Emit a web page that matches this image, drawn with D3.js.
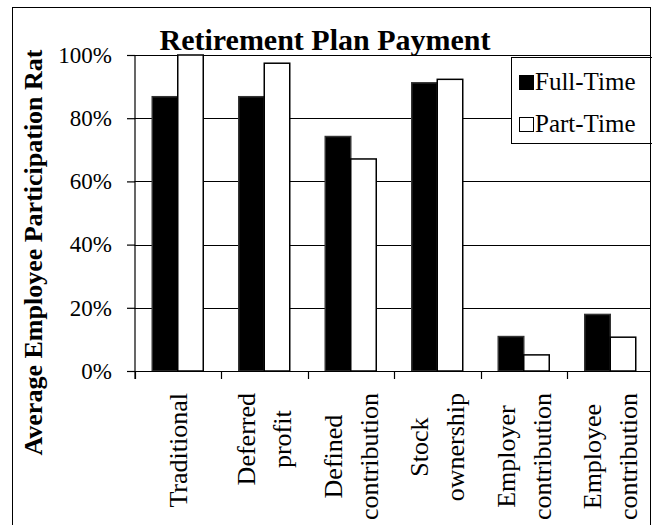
<!DOCTYPE html>
<html>
<head>
<meta charset="utf-8">
<script src="https://cdn.jsdelivr.net/npm/d3@7"></script>
<style>
  html, body { margin: 0; padding: 0; background: #fff; }
  svg { display: block; }
  text { font-family: "Liberation Serif", "Times New Roman", serif; fill: #000; }
</style>
</head>
<body>
<svg id="chart" width="652" height="525"></svg>
<script>
// ---- data ----
const categories = ["Traditional", "Deferred profit", "Defined contribution", "Stock ownership", "Employer contribution", "Employee contribution"];
const categoryLines = [["Traditional"], ["Deferred", "profit"], ["Defined", "contribution"], ["Stock", "ownership"], ["Employer", "contribution"], ["Employee", "contribution"]];
const seriesNames = ["Full-Time", "Part-Time"];
const fullTime = [0.868, 0.868, 0.742, 0.912, 0.109, 0.179];
const partTime = [1.000, 0.974, 0.671, 0.923, 0.051, 0.107];
const yTicks = [0, 0.2, 0.4, 0.6, 0.8, 1.0];
const titleText = "Retirement Plan Payment";
const yTitleText = "Average Employee Participation Rat";

const svg = d3.select("#chart");
const W = 652, H = 525;

// frame
svg.append("rect").attr("x", 12.5).attr("y", 7.5).attr("width", 638).attr("height", 600)
  .attr("fill", "#fff").attr("stroke", "#000").attr("stroke-width", 1);

const plot = { left: 134.5, right: 653.5, top: 55, bottom: 371 };

const y = d3.scaleLinear().domain([0, 1]).range([plot.bottom, plot.top]);
const x0 = d3.scaleBand().domain(categories).range([plot.left, plot.right]).padding(0);
const bw = x0.bandwidth();
const x1 = d3.scaleBand().domain(seriesNames).range([bw / 2 - 25.5, bw / 2 + 25.5]).padding(0);

const clip = svg.append("clipPath").attr("id", "frameClip")
  .append("rect").attr("x", 12).attr("y", 7).attr("width", 638.5).attr("height", 600);

const g = svg.append("g").attr("clip-path", "url(#frameClip)");

// gridlines
g.append("g").selectAll("line").data(yTicks.filter(d => d > 0)).join("line")
  .attr("x1", plot.left).attr("x2", plot.right)
  .attr("y1", d => Math.round(y(d)) + 0.5).attr("y2", d => Math.round(y(d)) + 0.5)
  .attr("stroke", "#000").attr("stroke-width", 1);

// bars
const rows = categories.map((c, i) => ({ c, vals: [fullTime[i], partTime[i]] }));
const grp = g.append("g").selectAll("g").data(rows).join("g")
  .attr("transform", d => `translate(${x0(d.c)},0)`);
grp.selectAll("rect").data(d => d.vals.map((v, j) => ({ s: seriesNames[j], v }))).join("rect")
  .attr("x", d => x1(d.s)).attr("width", x1.bandwidth())
  .attr("y", d => y(d.v)).attr("height", d => y(0) - y(d.v))
  .attr("fill", d => d.s === "Full-Time" ? "#000" : "#fff")
  .attr("stroke", d => d.s === "Full-Time" ? "#333" : "#000")
  .attr("stroke-width", 1.5);

// baseline (x axis)
g.append("line").attr("x1", plot.left).attr("x2", plot.right)
  .attr("y1", y(0) + 0.5).attr("y2", y(0) + 0.5).attr("stroke", "#000").attr("stroke-width", 1.2);

// category boundary ticks
const bounds = categories.map(c => x0(c)).concat([plot.right]);
g.append("g").selectAll("line").data(bounds).join("line")
  .attr("x1", d => Math.round(d) + 0.5).attr("x2", d => Math.round(d) + 0.5)
  .attr("y1", y(0)).attr("y2", y(0) + 8)
  .attr("stroke", "#000").attr("stroke-width", 1.2);

// y axis
const yAxis = d3.axisLeft(y).tickValues(yTicks).tickFormat(d3.format(".0%")).tickSize(8).tickPadding(15);
const ya = svg.append("g").attr("transform", `translate(${plot.left + 0.5},0)`).call(yAxis);
ya.select(".domain").remove();
ya.selectAll(".tick line").attr("stroke", "#000").attr("stroke-width", 1.2);
ya.selectAll(".tick text").attr("font-family", "Liberation Serif").attr("font-size", 23).attr("fill", "#000");
svg.append("line").attr("x1", plot.left + 0.5).attr("x2", plot.left + 0.5)
  .attr("y1", plot.top).attr("y2", plot.bottom + 8).attr("stroke", "#000").attr("stroke-width", 1.2);

// x labels
const lineH = 36, labelTop = 393;
categoryLines.forEach((lines, i) => {
  const cx = x0(categories[i]) + bw / 2;
  const texts = lines.map((t, k) => {
    const bx = cx + (k - (lines.length - 1) / 2) * lineH + 9;
    return svg.append("text").text(t)
      .attr("font-size", 26)
      .attr("text-anchor", "middle")
      .attr("data-bx", bx);
  });
  const maxLen = d3.max(texts, t => t.node().getComputedTextLength());
  texts.forEach(t => {
    const bx = +t.attr("data-bx");
    t.attr("transform", `translate(${bx},${labelTop + maxLen / 2}) rotate(-90)`);
  });
});

// title
svg.append("text").text(titleText)
  .attr("x", 325).attr("y", 50).attr("text-anchor", "middle")
  .attr("font-size", 30).attr("font-weight", "bold");

// y title
svg.append("text").text(yTitleText)
  .attr("transform", "translate(41.5,252.5) rotate(-90)")
  .attr("text-anchor", "middle").attr("font-size", 26).attr("font-weight", "bold");

// legend
const leg = svg.append("g");
leg.append("rect").attr("x", 511.5).attr("y", 57.5).attr("width", 145).attr("height", 86)
  .attr("fill", "#fff").attr("stroke", "#000").attr("stroke-width", 1);
// redraw right frame edge above legend
svg.append("line").attr("x1", 650.5).attr("x2", 650.5).attr("y1", 7).attr("y2", H)
  .attr("stroke", "#000").attr("stroke-width", 1);
const legItems = seriesNames.map((s, j) => ({ s, yy: 75 + j * 42 }));
leg.selectAll("rect.sw").data(legItems).join("rect").attr("class", "sw")
  .attr("x", 519.5).attr("y", d => d.yy + 0.5).attr("width", 14).attr("height", 14)
  .attr("fill", d => d.s === "Full-Time" ? "#000" : "#fff")
  .attr("stroke", "#000").attr("stroke-width", 1);
leg.selectAll("text").data(legItems).join("text")
  .attr("x", 535).attr("y", d => d.yy + 15).text(d => d.s)
  .attr("font-size", 25);
</script>
</body>
</html>
